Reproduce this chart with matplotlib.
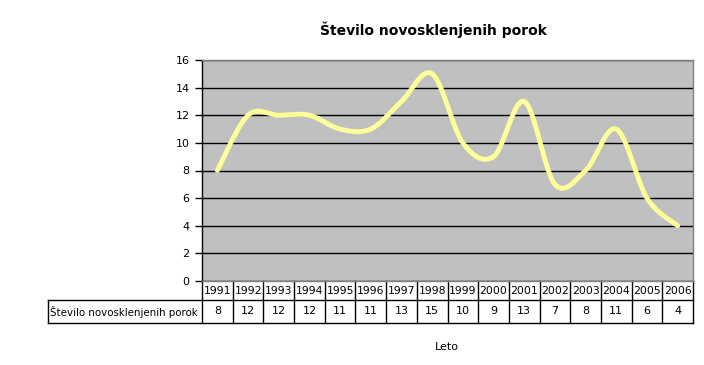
import numpy as np
import matplotlib
matplotlib.use("Agg")
import matplotlib.pyplot as plt
from matplotlib.transforms import blended_transform_factory

years = ["1991", "1992", "1993", "1994", "1995", "1996", "1997", "1998",
         "1999", "2000", "2001", "2002", "2003", "2004", "2005", "2006"]
values = [8, 12, 12, 12, 11, 11, 13, 15, 10, 9, 13, 7, 8, 11, 6, 4]
series_name = "Število novosklenjenih porok"
title = "Število novosklenjenih porok"
xlabel = "Leto"
yticks = [0, 2, 4, 6, 8, 10, 12, 14, 16]

plt.rcParams['font.family'] = ['DejaVu Sans']

fig = plt.figure(figsize=(7.04, 3.65), dpi=100)
W, H = 704, 365
x0, x1, y0, y1 = 202, 693, 60, 281
ax = fig.add_axes([x0 / W, 1 - y1 / H, (x1 - x0) / W, (y1 - y0) / H])
ax.set_facecolor("#C0C0C0")
for s in ax.spines.values():
    s.set_color("#808080")
    s.set_linewidth(1)
ax.spines['left'].set_color("black")

n = len(values)
xs = np.arange(n, dtype=float)
ys = np.array(values, dtype=float)

# Catmull-Rom / Excel-style smoothing
P = np.column_stack([xs, ys])
Pext = np.vstack([P[0], P, P[-1]])
curve = []
for i in range(n - 1):
    p0, p1, p2, p3 = Pext[i], Pext[i + 1], Pext[i + 2], Pext[i + 3]
    c1 = p1 + (p2 - p0) / 6
    c2 = p2 - (p3 - p1) / 6
    t = np.linspace(0, 1, 30)[:, None]
    seg = (1 - t) ** 3 * p1 + 3 * (1 - t) ** 2 * t * c1 + 3 * (1 - t) * t ** 2 * c2 + t ** 3 * p2
    curve.append(seg if i == 0 else seg[1:])
curve = np.vstack(curve)

ax.set_xlim(-0.5, n - 0.5)
ax.set_ylim(0, 16)
ax.set_yticks(yticks)
ax.yaxis.grid(True, color="black", linewidth=1)
ax.set_axisbelow(True)
ax.plot(curve[:, 0], curve[:, 1], color="#FFFF99", linewidth=3.5, solid_capstyle="round", zorder=3)
ax.set_xticks([])
ax.tick_params(axis='y', length=5, width=1, labelsize=8, pad=4, colors="black")

fig.text((x0 + x1) / 2 / W - 0.02, 1 - 30 / H, title, ha="center", va="center",
         fontsize=10, fontweight="bold")

# data table
tr = blended_transform_factory(ax.transData, ax.transAxes)
h = y1 - y0
r1 = -19 / h
r2 = -42 / h
left_x = -0.5 - (x0 - 48) / (x1 - x0) * n
lk = dict(color="black", linewidth=1, transform=tr, clip_on=False)
ax.plot([-0.5, n - 0.5], [r1, r1], **lk)
ax.plot([left_x, n - 0.5], [r2, r2], **lk)
ax.plot([left_x, -0.5], [r1, r1], **lk)
ax.plot([left_x, left_x], [r1, r2], **lk)
for i in range(n + 1):
    ax.plot([i - 0.5, i - 0.5], [0, r2], **lk)
for i, (yr, v) in enumerate(zip(years, values)):
    ax.text(i, r1 / 2, yr, transform=tr, ha="center", va="center", fontsize=7.8)
    ax.text(i, (r1 + r2) / 2, str(v), transform=tr, ha="center", va="center", fontsize=8)
ax.text(left_x + 0.05, (r1 + r2) / 2, series_name, transform=tr, ha="left", va="center", fontsize=7.4)

fig.text(447 / W, 1 - 347 / H, xlabel, ha="center", va="center", fontsize=8)

fig.savefig("out.png", dpi=100, facecolor="white")
